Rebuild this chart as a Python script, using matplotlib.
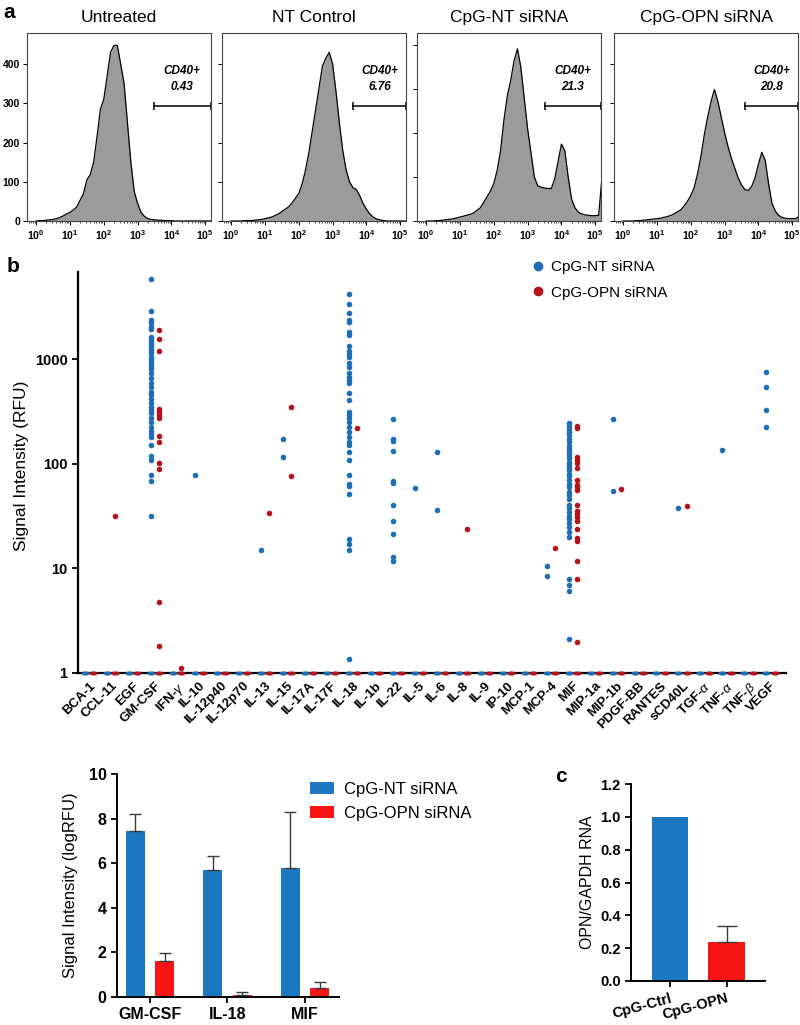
import numpy as np
import matplotlib
matplotlib.use("Agg")
import matplotlib.pyplot as plt
from matplotlib.ticker import LogLocator, NullFormatter, NullLocator, FixedLocator
from matplotlib.lines import Line2D

plt.rcParams['font.family'] = ['Liberation Sans', 'DejaVu Sans']
plt.rcParams['mathtext.fontset'] = 'custom'
plt.rcParams['mathtext.rm'] = 'Liberation Sans'
plt.rcParams['mathtext.it'] = 'Liberation Sans:italic'
plt.rcParams['mathtext.bf'] = 'Liberation Sans:bold'

# ---------------- panel a : flow histograms ----------------
hist_titles = ["Untreated", "NT Control", "CpG-NT siRNA", "CpG-OPN siRNA"]
gate_pct = ["0.43", "6.76", "21.3", "20.8"]
gate_start = [3.47, 3.60, 3.50, 3.61]   # log10 of gate left edge
hist_logx = np.round(np.arange(0, 5.21, 0.1), 1)
untreated = [0, 1, 1, 2, 3, 4, 6, 9, 13, 18,
             22, 28, 36, 53, 70, 105, 118, 150, 215, 285,
             310, 370, 430, 447, 448, 400, 350, 250, 150, 75,
             45, 22, 12, 6, 4, 3, 2, 2, 1, 1,
             1, 0, 0, 0, 0, 0, 0, 0, 0, 0, 0, 0, 0]
nt_control = [0, 0, 0, 0, 1, 1, 1, 2, 3, 4,
              6, 8, 10, 14, 18, 24, 30, 36, 46, 58,
              70, 95, 130, 175, 230, 285, 340, 395, 415, 430,
              400, 330, 250, 180, 130, 100, 85, 80, 65, 45,
              30, 18, 10, 5, 3, 1, 0, 0, 0, 0, 0, 0, 0]
cpg_nt = [0, 0, 0, 1, 1, 2, 3, 4, 5, 7,
          9, 11, 13, 15, 18, 24, 30, 42, 55, 68,
          85, 115, 160, 230, 285, 320, 365, 392, 350, 280,
          210, 155, 100, 80, 77, 75, 74, 74, 95, 135,
          175, 160, 100, 50, 30, 20, 16, 14, 13, 12,
          12, 13, 100]
cpg_opn = [0, 0, 0, 0, 1, 1, 2, 3, 4, 5,
           6, 7, 9, 11, 14, 18, 23, 28, 38, 50,
           65, 85, 120, 165, 220, 265, 305, 335, 305, 265,
           225, 190, 160, 135, 110, 92, 80, 78, 88, 110,
           145, 175, 155, 95, 45, 25, 14, 9, 7, 6,
           6, 6, 12]
hist_counts = [untreated, nt_control, cpg_nt, cpg_opn]
hist_ymax = [479, 479, 428, 479]

# ---------------- panel b : cytokine array ----------------
cytokines = ["BCA-1", "CCL-11", "EGF", "GM-CSF", r"IFN-$\gamma$", "IL-10", "IL-12p40",
             "IL-12p70", "IL-13", "IL-15", "IL-17A", "IL-17F", "IL-18", "IL-1b", "IL-22",
             "IL-5", "IL-6", "IL-8", "IL-9", "IP-10", "MCP-1", "MCP-4", "MIF", "MIP-1a",
             "MIP-1b", "PDGF-BB", "RANTES", "sCD40L", r"TGF-$\alpha$", r"TNF-$\alpha$",
             r"TNF-$\beta$", "VEGF"]
# 0 = not detected (drawn on the baseline at 1)
nt_vals = [
    [0], [0], [0],
    [5850, 2930, 2390, 2220, 2060, 1945, 1650, 1560, 1470, 1385, 1307, 1233, 1146, 1064,
     1004, 953, 905, 854, 806, 748, 661, 592, 550, 492, 457, 416, 381, 354, 329, 306,
     274, 254, 228, 208, 194, 183, 152, 119, 108, 78, 68, 32, 0],
    [0], [79, 0], [0], [0], [15, 0], [173, 117, 0], [0], [0],
    [4235, 3400, 2805, 2390, 2285, 1846, 1715, 1346, 1215, 1130, 1050, 920, 854, 748,
     685, 636, 592, 475, 410, 317, 294, 274, 254, 228, 204, 183, 163, 152, 131, 108,
     78, 65, 61, 52, 19, 17, 15, 1.36, 0],
    [0],
    [270, 173, 166, 133, 69, 66, 40.5, 28.5, 21.4, 13, 11.9, 0],
    [58.5, 0], [129, 36.3, 0], [0], [0], [0], [0], [10.6, 8.5, 0],
    [248, 233, 216, 201, 190, 174, 161, 150, 139, 131, 122, 113, 105, 100, 94, 88, 81,
     76, 70, 65, 60, 54, 50, 46, 40.5, 37.7, 35, 31.8, 29.5, 27, 25, 22.5, 20.1, 7.9,
     6.9, 6.1, 2.1, 0],
    [0], [270, 55, 0], [0], [0], [37.7, 0], [0], [136, 0], [0],
    [754, 542, 329, 228, 0],
]
opn_vals = [
    [0], [32, 0], [0],
    [1915, 1570, 1205, 334, 312, 294, 274, 187, 163, 102, 90, 4.8, 1.82, 0],
    [1.12, 0], [0], [0], [0], [34, 0], [354, 77, 0], [0], [0], [219, 0], [0], [0],
    [0], [0], [24, 0], [0], [0], [0], [15.6, 0],
    [231, 219, 117, 109, 102, 92, 71, 63, 60, 56, 40.5, 35.7, 33.2, 31.3, 28.5, 23.7,
     19.5, 18.5, 11.8, 7.9, 2.0, 0],
    [0], [57, 0], [0], [0], [39.6, 0], [0], [0], [0], [0],
]

# ---------------- bar chart (logRFU) ----------------
bar_cats = ["GM-CSF", "IL-18", "MIF"]
nt_mean = [7.45, 5.68, 5.80]
nt_err = [0.77, 0.64, 2.48]
opn_mean = [1.63, 0.11, 0.42]
opn_err = [0.33, 0.12, 0.26]

# ---------------- panel c ----------------
knock_cats = ["CpG-Ctrl", "CpG-OPN"]
knock_vals = [1.0, 0.24]
knock_err = [0.0, 0.097]

dot_blue = "#1f6db4"
dot_red = "#b5121b"
bar_blue = "#1b77c0"
bar_red = "#f71414"

W, H = 800, 1025
fig = plt.figure(figsize=(8, 10.25), dpi=100)


def px_axes(left, top, right, bottom):
    return fig.add_axes([left / W, 1 - bottom / H, (right - left) / W, (bottom - top) / H])


# ---- a ----
hist_left = [27, 222, 417, 614]
for k in range(4):
    ax = px_axes(hist_left[k], 33, hist_left[k] + 184, 221)
    xs = 10 ** hist_logx
    ax.fill_between(xs, hist_counts[k], color="#9b9b9b", lw=0)
    ax.plot(xs, hist_counts[k], color="black", lw=0.9)
    ax.set_xscale("log")
    ax.set_xlim(10 ** -0.27, 10 ** 5.17)
    ax.set_ylim(0, hist_ymax[k])
    ax.xaxis.set_major_locator(LogLocator(base=10, numticks=10))
    ax.xaxis.set_minor_locator(LogLocator(base=10, subs=np.arange(2, 10), numticks=10))
    ax.xaxis.set_minor_formatter(NullFormatter())
    ax.set_yticks([0, 100, 200, 300, 400])
    if k > 0:
        ax.set_yticklabels([])
    ax.tick_params(axis="both", which="major", length=3, width=0.7, labelsize=7.5, pad=2)
    ax.tick_params(axis="both", which="minor", length=1.5, width=0.5)
    for lab in ax.get_xticklabels() + ax.get_yticklabels():
        lab.set_fontweight("bold")
    for s in ax.spines.values():
        s.set_linewidth(0.8)
        s.set_color("#444444")
    ax.text(0.5, 1.085, hist_titles[k], transform=ax.transAxes, ha="center", va="center",
            fontsize=12.5)
    tr = ax.get_xaxis_transform()
    ax.plot([10 ** gate_start[k], 10 ** 5.17], [0.61, 0.61], transform=tr, color="black",
            lw=1.1, marker="|", markersize=6, mew=1.1, clip_on=False)
    ax.text(10 ** ((gate_start[k] + 5.17) / 2), 0.755, "CD40+\n" + gate_pct[k], transform=tr,
            ha="center", va="center", fontsize=8.5, fontweight="bold", style="italic",
            linespacing=1.5)

fig.text(9 / W, 1 - 13 / H, "a", fontsize=15, fontweight="bold", ha="center", va="center")

# ---- b ----
ax = px_axes(78, 272, 786, 673)
t = np.linspace(0, 2 * np.pi, 40)
ell = list(zip(np.cos(t), 0.5 * np.sin(t)))
for i in range(len(cytokines)):
    for vals, off, col in ((nt_vals[i], -0.19, dot_blue), (opn_vals[i], 0.19, dot_red)):
        v = np.array(vals, dtype=float)
        det = v[v > 0]
        nd = v[v <= 0]
        ax.scatter(np.full(len(det), i + off), det, s=16, color=col, lw=0, zorder=3,
                   clip_on=False)
        ax.scatter(np.full(len(nd), i + off), np.ones(len(nd)), s=36, marker=ell,
                   color=col, lw=0, zorder=4, clip_on=False)
ax.set_yscale("log")
ax.set_ylim(1, 10 ** 3.837)
ax.set_xlim(-0.5, 31.7)
ax.yaxis.set_major_locator(FixedLocator([1, 10, 100, 1000]))
ax.yaxis.set_minor_locator(NullLocator())
ax.set_yticklabels(["1", "10", "100", "1000"])
ax.set_xticks(range(len(cytokines)))
ax.set_xticklabels(cytokines, rotation=45, ha="right", va="top", rotation_mode="anchor")
ax.tick_params(axis="y", length=4.5, width=1.3, labelsize=10.5, pad=3)
ax.tick_params(axis="x", length=0, labelsize=9.5, pad=5)
for lab in ax.get_xticklabels() + ax.get_yticklabels():
    lab.set_fontweight("bold")
for s in ["top", "right"]:
    ax.spines[s].set_visible(False)
for s in ["left", "bottom"]:
    ax.spines[s].set_linewidth(1.6)
leg_h = [Line2D([], [], ls="", marker="o", markersize=6, color=dot_blue),
         Line2D([], [], ls="", marker="o", markersize=6, color=dot_red)]
ax.legend(leg_h, ["CpG-NT siRNA", "CpG-OPN siRNA"], loc="upper left",
          bbox_to_anchor=(0.633, 1.045), frameon=False, fontsize=11, handlelength=0.8,
          handletextpad=0.45, labelspacing=0.75, borderaxespad=0)
fig.text(22 / W, 1 - 466 / H, "Signal Intensity (RFU)", rotation=90, ha="center",
         va="center", fontsize=12.5)
fig.text(13 / W, 1 - 267 / H, "b", fontsize=15, fontweight="bold", ha="center", va="center")

# ---- bar chart ----
ax = px_axes(117, 774, 339, 997)
xb = np.arange(len(bar_cats))
ax.bar(xb - 0.19, nt_mean, width=0.245, color=bar_blue, yerr=[[0] * 3, nt_err],
       error_kw=dict(ecolor="#3a3a3a", elinewidth=1, capsize=4, capthick=1),
       label="CpG-NT siRNA")
ax.bar(xb + 0.19, opn_mean, width=0.245, color=bar_red, yerr=[[0] * 3, opn_err],
       error_kw=dict(ecolor="#3a3a3a", elinewidth=1, capsize=4, capthick=1),
       label="CpG-OPN siRNA")
ax.set_xlim(-0.426, 2.44)
ax.set_ylim(0, 10)
ax.set_yticks([0, 2, 4, 6, 8, 10])
ax.set_xticks(xb)
ax.set_xticklabels(bar_cats)
ax.tick_params(axis="both", length=4.5, width=1.3, labelsize=11.5, pad=3)
for lab in ax.get_xticklabels() + ax.get_yticklabels():
    lab.set_fontweight("bold")
for s in ["top", "right"]:
    ax.spines[s].set_visible(False)
for s in ["left", "bottom"]:
    ax.spines[s].set_linewidth(1.4)
ax.legend(loc="upper left", bbox_to_anchor=(0.84, 0.995), frameon=False, fontsize=12,
          handlelength=1.45, handleheight=0.75, handletextpad=0.6, labelspacing=0.55,
          borderaxespad=0)
fig.text(71 / W, 1 - 885 / H, "Signal Intensity (logRFU)", rotation=90, ha="center",
         va="center", fontsize=12)

# ---- c ----
ax = px_axes(631, 784, 765, 981)
xc = np.arange(len(knock_cats))
ax.bar(xc, knock_vals, width=0.65, color=[bar_blue, bar_red])
has_err = [j for j in range(len(knock_err)) if knock_err[j] > 0]
ax.errorbar([xc[j] for j in has_err], [knock_vals[j] for j in has_err],
            yerr=[[0] * len(has_err), [knock_err[j] for j in has_err]], fmt="none",
            ecolor="#3a3a3a", elinewidth=1, capsize=7, capthick=1)
ax.set_xlim(-0.69, 1.68)
ax.set_ylim(0, 1.2)
ax.set_yticks([0, 0.2, 0.4, 0.6, 0.8, 1.0, 1.2])
ax.set_yticklabels(["0.0", "0.2", "0.4", "0.6", "0.8", "1.0", "1.2"])
ax.set_xticks(xc)
ax.set_xticklabels(knock_cats, rotation=15, ha="right", rotation_mode="anchor")
ax.tick_params(axis="both", length=4.5, width=1.3, labelsize=10.5, pad=3)
for lab in ax.get_xticklabels() + ax.get_yticklabels():
    lab.set_fontweight("bold")
for s in ["top", "right"]:
    ax.spines[s].set_visible(False)
for s in ["left", "bottom"]:
    ax.spines[s].set_linewidth(1.4)
fig.text(587 / W, 1 - 882 / H, "OPN/GAPDH RNA", rotation=90, ha="center", va="center",
         fontsize=11.5)
fig.text(561 / W, 1 - 777 / H, "c", fontsize=15, fontweight="bold", ha="center", va="center")

fig.savefig("out.png", dpi=100)
